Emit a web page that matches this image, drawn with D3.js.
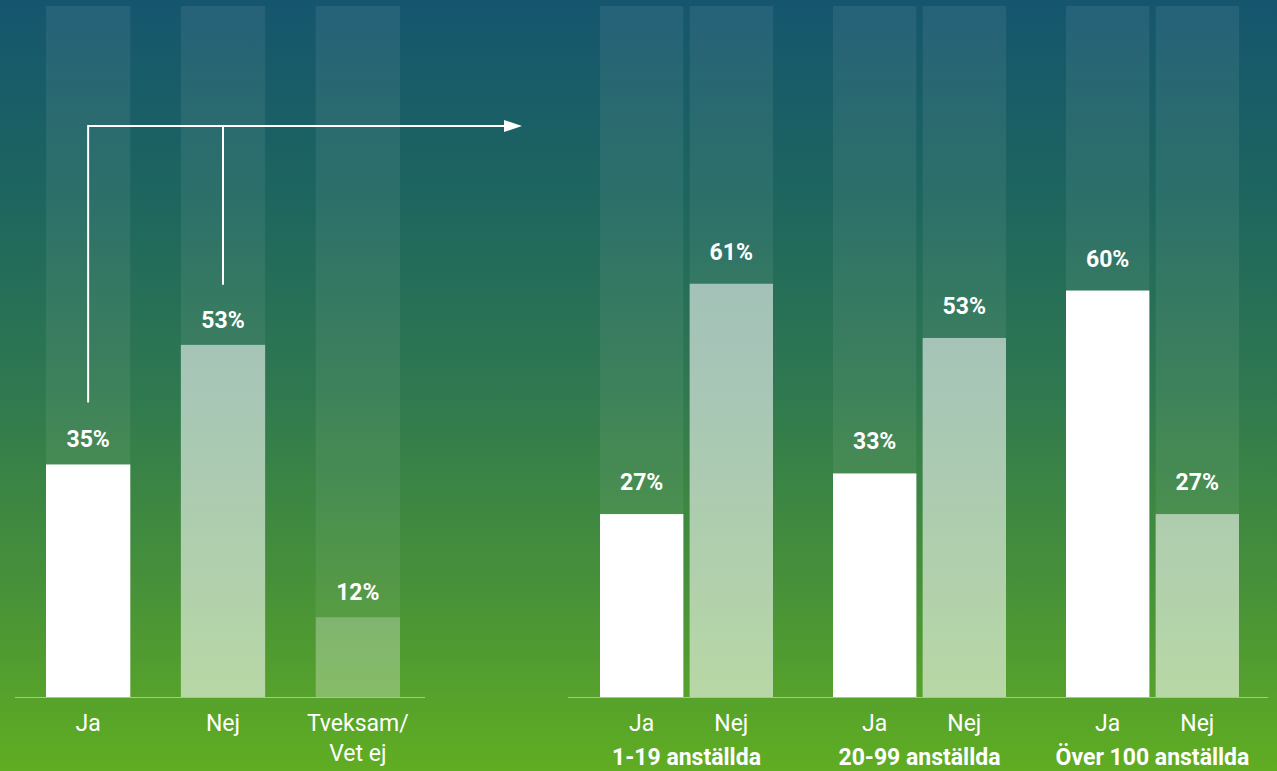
<!DOCTYPE html>
<html><head><meta charset="utf-8">
<script src="https://cdn.jsdelivr.net/npm/d3@7"></script>
<style>html,body{margin:0;padding:0;overflow:hidden;background:#2a7050}svg{display:block}</style>
</head><body><svg id="c" width="1277" height="771"></svg>
<script>
const leftCategories = ["Ja", "Nej", "Tveksam/|Vet ej"];
const leftValues = [35, 53, 12];
const groups = ["1-19 anställda", "20-99 anställda", "Över 100 anställda"];
const subCategories = ["Ja", "Nej"];
const groupJa = [27, 33, 60];
const groupNej = [61, 53, 27];

const W = 1277, H = 771;
const svg = d3.select("#c");
const defs = svg.append("defs");
const grad = defs.append("linearGradient").attr("id","bg").attr("x1",0).attr("y1",0).attr("x2",0).attr("y2",1);
[[0,"#15566f"],[0.25,"#1d655f"],[0.5,"#2f7850"],[0.75,"#46903a"],[1,"#60ad22"]].forEach(s=>grad.append("stop").attr("offset",s[0]).attr("stop-color",s[1]));
svg.append("rect").attr("width",W).attr("height",H).attr("fill","url(#bg)");

const baseY = 697, topY = 6;
const font = "Roboto, 'Noto Sans', sans-serif";
const FS = 23;

// Left chart
const xL = d3.scaleBand().domain(leftCategories).range([46, 400]).paddingInner(0.375).paddingOuter(0);
const yL = d3.scaleLinear().domain([0, 104]).range([baseY, topY]);
const gL = svg.append("g");
const opL = [1, 0.55, 0.24];
leftCategories.forEach((c,i)=>{
  gL.append("rect").attr("x",xL(c)).attr("y",yL(104)).attr("width",xL.bandwidth()).attr("height",baseY-yL(104)).attr("fill","#fff").attr("fill-opacity",0.07);
  gL.append("rect").attr("x",xL(c)).attr("y",yL(leftValues[i])).attr("width",xL.bandwidth()).attr("height",baseY-yL(leftValues[i])).attr("fill","#fff").attr("fill-opacity",opL[i]);
  gL.append("text").attr("x",xL(c)+xL.bandwidth()/2).attr("y",yL(leftValues[i])-17).attr("text-anchor","middle")
    .attr("fill","#fff").attr("font-family",font).attr("font-weight","bold").attr("font-size",FS).text(leftValues[i]+"%");
  const parts = c.split("|");
  parts.forEach((p,j)=>{
    gL.append("text").attr("x",xL(c)+xL.bandwidth()/2).attr("y",731+j*30).attr("text-anchor","middle")
      .attr("fill","#fff").attr("font-family",font).attr("font-size",FS).text(p);
  });
});
svg.append("line").attr("x1",15).attr("x2",425).attr("y1",baseY+0.5).attr("y2",baseY+0.5).attr("stroke","#fff").attr("stroke-opacity",0.45);

// Right chart
const x0 = d3.scaleBand().domain(groups).range([600, 1299]).padding(0);
const x1 = d3.scaleBand().domain(subCategories).range([0, 173]).paddingInner(0.07).paddingOuter(0);
const yR = d3.scaleLinear().domain([0, 102]).range([baseY, topY]);
const gR = svg.append("g");
groups.forEach((g,gi)=>{
  const vals = [groupJa[gi], groupNej[gi]];
  subCategories.forEach((s,si)=>{
    const x = x0(g)+x1(s), w = x1.bandwidth();
    gR.append("rect").attr("x",x).attr("y",yR(102)).attr("width",w).attr("height",baseY-yR(102)).attr("fill","#fff").attr("fill-opacity",0.07);
    gR.append("rect").attr("x",x).attr("y",yR(vals[si])).attr("width",w).attr("height",baseY-yR(vals[si])).attr("fill","#fff").attr("fill-opacity",si===0?1:0.55);
    gR.append("text").attr("x",x+w/2).attr("y",yR(vals[si])-24).attr("text-anchor","middle")
      .attr("fill","#fff").attr("font-family",font).attr("font-weight","bold").attr("font-size",FS).text(vals[si]+"%");
    gR.append("text").attr("x",x+w/2).attr("y",731).attr("text-anchor","middle")
      .attr("fill","#fff").attr("font-family",font).attr("font-size",FS).text(s);
  });
  gR.append("text").attr("x",x0(g)+86.5).attr("y",765).attr("text-anchor","middle")
    .attr("fill","#fff").attr("font-family",font).attr("font-weight","bold").attr("font-size",FS).text(g);
});
svg.append("line").attr("x1",568).attr("x2",1268).attr("y1",baseY+0.5).attr("y2",baseY+0.5).attr("stroke","#fff").attr("stroke-opacity",0.45);

// Connector arrow
const jaX = xL("Ja")+xL.bandwidth()/2, nejX = xL("Nej")+xL.bandwidth()/2;
const arrowY = 126;
const conn = svg.append("g").attr("stroke","#fff").attr("stroke-width",2).attr("fill","none");
conn.append("path").attr("d",`M${jaX},${yL(leftValues[0])-62} V${arrowY} H504`);
conn.append("path").attr("d",`M${nejX},${yL(leftValues[1])-60} V${arrowY}`);
svg.append("path").attr("d",`M504,${arrowY-6} L522,${arrowY} L504,${arrowY+6} Z`).attr("fill","#fff");
</script></body></html>
